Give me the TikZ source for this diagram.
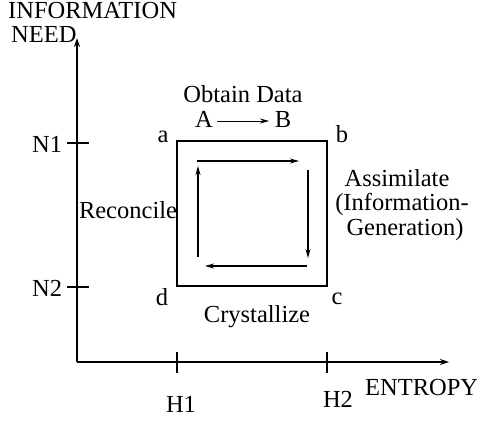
\documentclass[tikz,border=0pt]{standalone}
\usepackage{fontspec}
\setmainfont{Liberation Serif}
\usetikzlibrary{arrows.meta}
\begin{document}
\begin{tikzpicture}[x=1pt,y=-1pt,
  lbl/.style={inner sep=0pt,font=\fontsize{24.5}{24}\selectfont},
  ax/.style={line width=1.3pt,-{Stealth[length=9pt,width=6pt]}},
  tick/.style={line width=1.3pt},
  flow/.style={line width=1.2pt,-{Stealth[length=9pt,width=5pt]}},
  boxline/.style={line width=1.5pt}]
\useasboundingbox (0,0) rectangle (477,421);
% axes
\coordinate (O) at (77,362);
\coordinate (ytop) at (77,38);
\coordinate (xend) at (449,362);
\draw[ax] (O) -- (ytop);
\draw[ax] (O) -- (xend);
% ticks
\coordinate (n1a) at (67,143); \coordinate (n1b) at (89,143);
\coordinate (n2a) at (67,287); \coordinate (n2b) at (89,287);
\coordinate (h1a) at (177,352); \coordinate (h1b) at (177,373);
\coordinate (h2a) at (327,352); \coordinate (h2b) at (327,373);
\draw[tick] (n1a) -- (n1b);
\draw[tick] (n2a) -- (n2b);
\draw[tick] (h1a) -- (h1b);
\draw[tick] (h2a) -- (h2b);
% box
\coordinate (a) at (177,141);
\coordinate (c) at (327,286);
\draw[boxline] (a) rectangle (c);
% inner cycle arrows
\coordinate (t1) at (197,161); \coordinate (t2) at (299,161);
\coordinate (r1) at (308,170); \coordinate (r2) at (308,258);
\coordinate (b1) at (307,266); \coordinate (b2) at (205,266);
\coordinate (l1) at (198,257); \coordinate (l2) at (198,166);
\draw[flow] (t1) -- (t2);
\draw[flow] (r1) -- (r2);
\draw[flow] (b1) -- (b2);
\draw[flow] (l1) -- (l2);
% labels
\node[lbl,anchor=base west] (info) at (8,18) {INFORMATION};
\node[lbl,anchor=base west] (need) at (11,42) {NEED};
\node[lbl,anchor=base west] (N1) at (32,152) {N1};
\node[lbl,anchor=base west] (N2) at (32,296) {N2};
\node[lbl,anchor=base] (H1) at (181,412) {H1};
\node[lbl,anchor=base] (H2) at (338,407) {H2};
\node[lbl,anchor=base west] (ent) at (365,395) {ENTROPY};
\node[lbl,anchor=base] (obt) at (243,102) {Obtain Data};
\node[lbl,anchor=base] (A) at (204,127) {A};
\node[lbl,anchor=base] (B) at (283,127) {B};
\coordinate (ab1) at (217,121); \coordinate (ab2) at (269,121);
\draw[flow,line width=0.8pt] (ab1) -- (ab2);
\node[lbl,anchor=base] (la) at (163,142) {a};
\node[lbl,anchor=base] (lb) at (342,142) {b};
\node[lbl,anchor=base] (ld) at (162,305) {d};
\node[lbl,anchor=base] (lc) at (337,304) {c};
\node[lbl,anchor=base] (cry) at (257,322) {Crystallize};
\node[lbl,anchor=base] (rec) at (128,218) {Reconcile};
\node[lbl,anchor=base] (ass1) at (397,186) {Assimilate};
\node[lbl,anchor=base] (ass2) at (402,210) {(Information-};
\node[lbl,anchor=base] (ass3) at (405,235) {Generation)};
\end{tikzpicture}
\end{document}
